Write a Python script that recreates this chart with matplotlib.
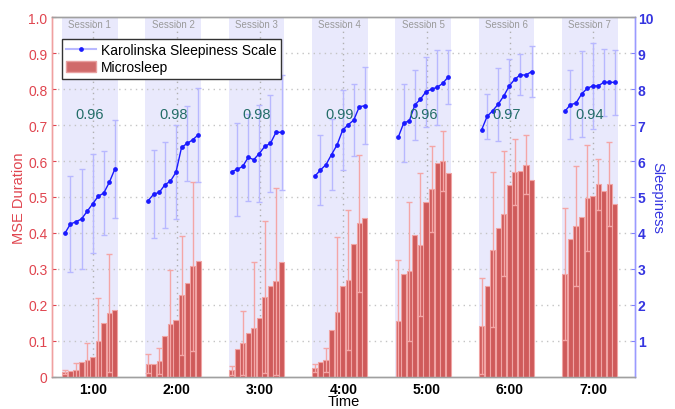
import matplotlib
matplotlib.use("Agg")
import matplotlib.pyplot as plt
import matplotlib.transforms as mtransforms
from matplotlib.lines import Line2D
from matplotlib.patches import Patch
import numpy as np

plt.rcParams['font.family'] = ['Liberation Sans', 'DejaVu Sans']

# ---------------- data ----------------
hours = [1, 2, 3, 4, 5, 6, 7]
hour_labels = ['1:00', '2:00', '3:00', '4:00', '5:00', '6:00', '7:00']
session_labels = ['Session 1', 'Session 2', 'Session 3', 'Session 4',
                  'Session 5', 'Session 6', 'Session 7']
correlations = ['0.96', '0.98', '0.98', '0.99', '0.96', '0.97', '0.94']

kss_s1 = [3.99, 4.25, 4.31, 4.39, 4.60, 4.81, 5.02, 5.11, 5.41, 5.78]
kss_s2 = [4.90, 5.08, 5.13, 5.34, 5.44, 5.69, 6.38, 6.49, 6.59, 6.73]
kss_s3 = [5.70, 5.77, 5.85, 6.10, 6.04, 6.21, 6.41, 6.49, 6.80, 6.80]
kss_s4 = [5.58, 5.75, 5.90, 6.18, 6.45, 6.86, 7.01, 7.14, 7.51, 7.54]
kss_s5 = [6.66, 7.06, 7.12, 7.56, 7.72, 7.93, 8.00, 8.05, 8.16, 8.34]
kss_s6 = [6.86, 7.24, 7.40, 7.58, 7.81, 8.09, 8.28, 8.40, 8.39, 8.49]
kss_s7 = [7.38, 7.57, 7.61, 7.86, 8.02, 8.09, 8.09, 8.19, 8.19, 8.19]

# KSS standard deviation, shown on points 2,4,6,8,10 of each session
kss_err_s1 = [1.34, 1.40, 1.38, 1.18, 1.36]
kss_err_s2 = [1.22, 1.20, 1.30, 1.05, 1.30]
kss_err_s3 = [1.30, 1.20, 1.36, 1.36, 1.60]
kss_err_s4 = [0.98, 0.98, 1.12, 1.00, 1.07]
kss_err_s5 = [1.08, 0.97, 0.97, 1.04, 0.74]
kss_err_s6 = [0.63, 1.02, 0.76, 0.57, 0.71]
kss_err_s7 = [0.95, 1.20, 1.20, 0.93, 0.91]

mse_s1 = [0.013, 0.016, 0.018, 0.041, 0.047, 0.055, 0.100, 0.150, 0.178, 0.186]
mse_s2 = [0.036, 0.035, 0.044, 0.112, 0.146, 0.158, 0.226, 0.260, 0.307, 0.323]
mse_s3 = [0.018, 0.078, 0.094, 0.121, 0.136, 0.164, 0.221, 0.251, 0.265, 0.319]
mse_s4 = [0.024, 0.041, 0.047, 0.129, 0.180, 0.252, 0.269, 0.368, 0.427, 0.442]
mse_s5 = [0.154, 0.286, 0.293, 0.394, 0.367, 0.485, 0.522, 0.594, 0.601, 0.566]
mse_s6 = [0.141, 0.252, 0.353, 0.414, 0.453, 0.533, 0.569, 0.571, 0.590, 0.547]
mse_s7 = [0.286, 0.383, 0.419, 0.444, 0.497, 0.502, 0.536, 0.518, 0.536, 0.481]

# MSE standard deviation, shown on bars 1,3,5,7,9 of each session
mse_err_s1 = [0.005, 0.021, 0.047, 0.120, 0.164]
mse_err_s2 = [0.026, 0.037, 0.151, 0.166, 0.236]
mse_err_s3 = [0.012, 0.088, 0.183, 0.212, 0.259]
mse_err_s4 = [0.010, 0.033, 0.210, 0.196, 0.190]
mse_err_s5 = [0.172, 0.194, 0.199, 0.119, 0.083]
mse_err_s6 = [0.134, 0.216, 0.174, 0.092, 0.082]
mse_err_s7 = [0.183, 0.168, 0.147, 0.071, 0.116]

kss = [kss_s1, kss_s2, kss_s3, kss_s4, kss_s5, kss_s6, kss_s7]
kss_err = [kss_err_s1, kss_err_s2, kss_err_s3, kss_err_s4, kss_err_s5, kss_err_s6, kss_err_s7]
mse = [mse_s1, mse_s2, mse_s3, mse_s4, mse_s5, mse_s6, mse_s7]
mse_err = [mse_err_s1, mse_err_s2, mse_err_s3, mse_err_s4, mse_err_s5, mse_err_s6, mse_err_s7]

# ---------------- style ----------------
RED_TXT = '#e0454f'
BLUE_TXT = '#3535e0'
BAR_FACE = '#cf5a5a'
BAR_EDGE = '#f0a4a4'
RED_ERR = '#f4a6a6'
BLUE_ERR = '#b8b8ff'
BLUE_LINE = '#1a1aff'
SHADE = '#e9e9fc'
GRID = '#c4c4c4'

step = 4.0 / 60.0          # 4-minute epochs
start_off = -22.5 / 60.0   # session begins 22.5 min before the hour

fig = plt.figure(figsize=(6.75, 4.1), dpi=100)
ax = fig.add_axes([0.0766, 0.0788, 0.8641, 0.8766])
ax2 = ax.twinx()

ax.set_xlim(0.5, 7.5)
ax.set_ylim(0, 1.0)
ax2.set_ylim(0, 10)

ax.set_zorder(1)
ax2.set_zorder(2)
ax2.patch.set_visible(False)

trans = mtransforms.blended_transform_factory(ax.transData, ax.transAxes)

for k, h in enumerate(hours):
    s0 = h + start_off
    s1 = s0 + 10 * step
    ax.axvspan(s0, s1, color=SHADE, zorder=0, lw=0)
    xs = s0 + step * (np.arange(10) + 0.5)
    ax.bar(xs, mse[k], width=step * 0.92, color=BAR_FACE, edgecolor=BAR_EDGE,
           linewidth=0.8, zorder=3)
    ax.errorbar(xs[0::2], np.array(mse[k])[0::2], yerr=mse_err[k], fmt='none',
                ecolor=RED_ERR, elinewidth=1.0, capsize=2.2, capthick=1.0, zorder=4)
    ax2.errorbar(xs[1::2], np.array(kss[k])[1::2], yerr=kss_err[k], fmt='none',
                 ecolor=BLUE_ERR, elinewidth=1.0, capsize=2.2, capthick=1.0, zorder=2)
    ax2.plot(xs, kss[k], color=BLUE_LINE, lw=1.0, marker='o', markersize=2.4,
             zorder=3)
    cx = (s0 + s1) / 2
    ax.text(cx, 0.981, session_labels[k], transform=trans, ha='center', va='center',
            fontsize=7, color='#9a9a9a', zorder=5)
    ax2.text(cx, 7.3, correlations[k], ha='center', va='center',
             fontsize=10.5, color='#236d68', zorder=6)

# grid
for yv in np.arange(0.1, 1.0, 0.1):
    ax.axhline(yv, color=GRID, lw=1.0, ls=(0, (1, 3)), zorder=1)
for h in hours:
    ax.axvline(h, color='#b0b0b0', lw=1.0, ls=(0, (1, 3)), zorder=1)

# ticks
ax.set_xticks(hours)
ax.set_xticklabels(hour_labels, fontsize=10, fontweight='bold')
ax.tick_params(axis='x', length=0, pad=3.5)
ax.set_yticks(np.round(np.arange(0, 1.01, 0.1), 1))
ax.set_yticklabels(['0'] + ['%.1f' % v for v in np.arange(0.1, 1.01, 0.1)],
                   fontsize=10, color=RED_TXT)
ax.tick_params(axis='y', direction='in', length=3, color=RED_TXT, pad=3)
ax2.set_yticks(range(1, 11))
ax2.set_yticklabels([str(v) for v in range(1, 11)], fontsize=10, color=BLUE_TXT,
                    fontweight='bold')
ax2.tick_params(axis='y', direction='in', length=3, color='#8080ff', pad=2)

ax.set_xlabel('Time', fontsize=10.5, labelpad=-1)
ax.set_ylabel('MSE Duration', fontsize=10.5, color=RED_TXT, labelpad=1.5)
ax2.set_ylabel('Sleepiness', fontsize=10.5, color=BLUE_TXT, rotation=270,
               labelpad=8)

for a in (ax, ax2):
    a.spines['top'].set_color('#a0a0a0')
    a.spines['bottom'].set_color('#a0a0a0')
    a.spines['left'].set_color('#f0a0a0')
    a.spines['right'].set_color('#9a9aff')
    for sp in a.spines.values():
        sp.set_linewidth(1.0)

handles = [Line2D([0], [0], color=BLUE_ERR, lw=1.5, marker='o', markersize=2.4,
                  markerfacecolor=BLUE_LINE, markeredgecolor=BLUE_LINE),
           Patch(facecolor='#d06a6a', edgecolor='#e8a0a0')]
leg = ax2.legend(handles, ['Karolinska Sleepiness Scale', 'Microsleep'],
                 loc='upper left', bbox_to_anchor=(0.017, 0.94), fontsize=10,
                 frameon=True, fancybox=False, framealpha=1, edgecolor='#333333',
                 borderaxespad=0, borderpad=0.3, handlelength=2.2,
                 handletextpad=0.35, handleheight=0.9, labelspacing=0.25)
leg.get_frame().set_linewidth(1.0)
leg.set_zorder(10)

fig.savefig('out.png', dpi=100)
